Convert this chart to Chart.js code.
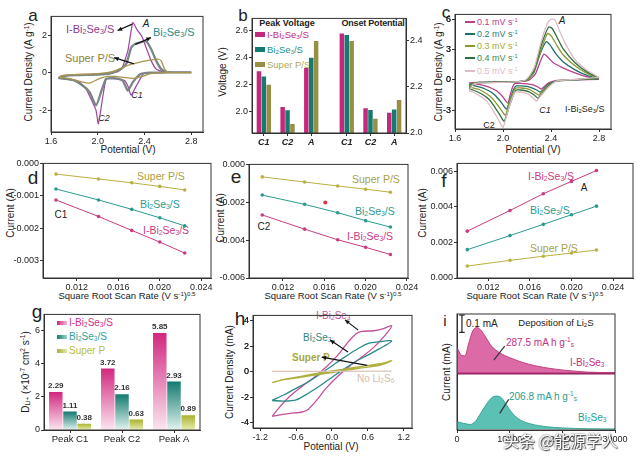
<!DOCTYPE html>
<html>
<head>
<meta charset="utf-8">
<script src="https://cdn.jsdelivr.net/npm/chart.js@4.4.1/dist/chart.umd.min.js"></script>
<style>
body { margin: 0; background: #fff; }
#fig { position: relative; width: 640px; height: 463px; overflow: hidden; background: #fff; font-family: "Liberation Sans", Arial, sans-serif; color: #222; }
#fig div { position: absolute; white-space: nowrap; line-height: 1; }
.t { transform: translate(-50%, -50%); }
.l { transform: translate(0, -50%); }
.r { transform: translate(-50%, -50%) rotate(-90deg); font-size: 10px; }
#fig sub { font-size: 65%; vertical-align: -0.2em; }
#fig sup { font-size: 65%; vertical-align: 0.5em; }
.big { font-size: 17px; transform: translate(-50%, -50%); }
.sw { width: 10px; height: 5px; }
.ln { width: 10px; height: 2px; }
</style>
</head>
<body>
<div id="fig">
  <!-- panel letters -->
  <div class="big" style="left:33px;top:15px">a</div>
  <div class="big" style="left:243px;top:15px">b</div>
  <div class="big" style="left:446px;top:12px">c</div>
  <div class="big" style="left:33px;top:177px;font-size:19px">d</div>
  <div class="big" style="left:236px;top:176px;font-size:19px">e</div>
  <div class="big" style="left:444px;top:180px;font-size:19px">f</div>
  <div class="big" style="left:37px;top:311px;font-size:19px">g</div>
  <div class="big" style="left:240px;top:318px;font-size:19px">h</div>
  <div class="big" style="left:445px;top:320px;font-size:15px">i</div>

  <!-- a -->
  <div class="r" style="left:29px;top:72px">Current Density (A g<sup>-1</sup>)</div>
  <div class="t" style="left:128px;top:150px;font-size:10px">Potential (V)</div>
  <div class="l" style="left:66px;top:30px;color:#8d3a8f;font-size:11px">I-Bi<sub>2</sub>Se<sub>3</sub>/S</div>
  <div class="t" style="left:146px;top:24px;font-style:italic;font-size:10px">A</div>
  <div class="l" style="left:153px;top:33px;color:#2a8c86;font-size:11px">Bi<sub>2</sub>Se<sub>3</sub>/S</div>
  <div class="l" style="left:65px;top:58px;color:#8f8240;font-size:11px">Super P/S</div>
  <div class="t" style="left:137px;top:95px;font-style:italic;font-size:9px">C1</div>
  <div class="t" style="left:104px;top:118px;font-style:italic;font-size:9px">C2</div>

  <!-- b -->
  <div class="r" style="left:223px;top:72px">Voltage (V)</div>
  <div class="t" style="left:287px;top:23px;font-weight:bold;font-size:9px">Peak Voltage</div>
  <div class="t" style="left:373px;top:23px;font-weight:bold;font-size:9px;letter-spacing:-0.2px">Onset Potential</div>
  <div class="sw" style="left:255px;top:32px;background:#c2297c"></div>
  <div class="sw" style="left:255px;top:47px;background:#157a70"></div>
  <div class="sw" style="left:255px;top:62px;background:#978f45"></div>
  <div class="l" style="left:267px;top:35px;color:#c2297c;font-size:9.5px">I-Bi<sub>2</sub>Se<sub>3</sub>/S</div>
  <div class="l" style="left:267px;top:50px;color:#1f8f86;font-size:9.5px">Bi<sub>2</sub>Se<sub>3</sub>/S</div>
  <div class="l" style="left:267px;top:65px;color:#b0a850;font-size:9.5px">Super P/S</div>

  <!-- c -->
  <div class="r" style="left:439px;top:72px">Current Density (A g<sup>-1</sup>)</div>
  <div class="t" style="left:533px;top:150px;font-size:10px">Potential (V)</div>
  <div class="ln" style="left:465px;top:21px;background:#b8408c"></div>
  <div class="ln" style="left:465px;top:33px;background:#1f6f6a"></div>
  <div class="ln" style="left:465px;top:45px;background:#8a9a30"></div>
  <div class="ln" style="left:465px;top:57px;background:#2f6e3e"></div>
  <div class="ln" style="left:465px;top:70px;background:#dcbcc4"></div>
  <div class="l" style="left:477px;top:22px;color:#b8408c;font-size:9px">0.1 mV s<sup>-1</sup></div>
  <div class="l" style="left:477px;top:34px;color:#1f7f7a;font-size:9px">0.2 mV s<sup>-1</sup></div>
  <div class="l" style="left:477px;top:46px;color:#a6a832;font-size:9px">0.3 mV s<sup>-1</sup></div>
  <div class="l" style="left:477px;top:58px;color:#3d8a4a;font-size:9px">0.4 mV s<sup>-1</sup></div>
  <div class="l" style="left:477px;top:71px;color:#e3b9c9;font-size:9px">0.5 mV s<sup>-1</sup></div>
  <div class="t" style="left:562px;top:21px;font-style:italic;font-size:10px">A</div>
  <div class="t" style="left:545px;top:110px;font-style:italic;font-size:9px">C1</div>
  <div class="t" style="left:489px;top:125px;font-size:9px">C2</div>
  <div class="l" style="left:565px;top:110px;font-size:9px">I-Bi<sub>2</sub>Se<sub>3</sub>/S</div>

  <!-- d e f -->
  <div class="r" style="left:11px;top:213px">Current (A)</div>
  <div class="t" style="left:127px;top:296px;font-size:9.5px">Square Root Scan Rate (V s<sup>-1</sup>)<sup>0.5</sup></div>
  <div class="l" style="left:137px;top:176px;color:#a89f45;font-size:10.5px">Super P/S</div>
  <div class="l" style="left:140px;top:205px;color:#2a9a90;font-size:10.5px">Bi<sub>2</sub>Se<sub>3</sub>/S</div>
  <div class="l" style="left:143px;top:231px;color:#c83c80;font-size:10.5px">I-Bi<sub>2</sub>Se<sub>3</sub>/S</div>
  <div class="t" style="left:61px;top:215px;font-size:10px">C1</div>

  <div class="r" style="left:221px;top:218px">Current (A)</div>
  <div class="t" style="left:333px;top:296px;font-size:9.5px">Square Root Scan Rate (V s<sup>-1</sup>)<sup>0.5</sup></div>
  <div class="l" style="left:352px;top:179px;color:#a89f45;font-size:10.5px">Super P/S</div>
  <div class="l" style="left:355px;top:212px;color:#2a9a90;font-size:10.5px">Bi<sub>2</sub>Se<sub>3</sub>/S</div>
  <div class="l" style="left:347px;top:237px;color:#c83c80;font-size:10.5px">I-Bi<sub>2</sub>Se<sub>3</sub>/S</div>
  <div class="t" style="left:264px;top:227px;font-size:10px">C2</div>

  <div class="r" style="left:423px;top:213px">Current (A)</div>
  <div class="t" style="left:535px;top:296px;font-size:9.5px">Square Root Scan Rate (V s<sup>-1</sup>)<sup>0.5</sup></div>
  <div class="l" style="left:528px;top:177px;color:#c83c80;font-size:10.5px">I-Bi<sub>2</sub>Se<sub>3</sub>/S</div>
  <div class="t" style="left:584px;top:188px;font-size:10px">A</div>
  <div class="l" style="left:530px;top:211px;color:#2a9a90;font-size:10.5px">Bi<sub>2</sub>Se<sub>3</sub>/S</div>
  <div class="l" style="left:530px;top:248px;color:#a89f45;font-size:10.5px">Super P/S</div>

  <!-- g -->
  <div class="r" style="left:26px;top:372px">D<sub>Li+</sub> (×10<sup>-7</sup> cm<sup>2</sup> s<sup>-1</sup>)</div>
  <div class="sw" style="left:57px;top:321px;height:4px;background:linear-gradient(90deg,#d2277f,#f3b5d3)"></div>
  <div class="sw" style="left:57px;top:335px;height:4px;background:linear-gradient(90deg,#157a70,#9fd3cc)"></div>
  <div class="sw" style="left:57px;top:349px;height:4px;background:linear-gradient(90deg,#a6b032,#e4ea9e)"></div>
  <div class="l" style="left:69px;top:323px;color:#d2308a;font-size:10px">I-Bi<sub>2</sub>Se<sub>3</sub>/S</div>
  <div class="l" style="left:69px;top:337px;color:#2aa39a;font-size:10px">Bi<sub>2</sub>Se<sub>3</sub>/S</div>
  <div class="l" style="left:69px;top:351px;color:#b5c040;font-size:10px">Super P</div>

  <!-- h -->
  <div class="r" style="left:230px;top:372px">Current Density (mA)</div>
  <div class="t" style="left:331px;top:447px;font-size:10px">Potential (V)</div>
  <div class="l" style="left:316px;top:316px;color:#c2509a;font-size:10px">I-Bi<sub>2</sub>Se<sub>3</sub></div>
  <div class="l" style="left:303px;top:338px;color:#2a8a88;font-size:10px">Bi<sub>2</sub>Se<sub>3</sub></div>
  <div class="l" style="left:292px;top:358px;color:#aaa838;font-size:10px;font-weight:bold">Super P</div>
  <div class="l" style="left:357px;top:379px;color:#d8bcb0;font-size:10px">No Li<sub>2</sub>S<sub>6</sub></div>

  <!-- i -->
  <div class="r" style="left:447px;top:372px">Current (mA)</div>
  <div class="l" style="left:466px;top:324px;font-size:10px">0.1 mA</div>
  <div class="t" style="left:556px;top:323px;font-size:9.5px">Deposition of Li<sub>2</sub>S</div>
  <div class="l" style="left:506px;top:343px;color:#c2307f;font-size:10px">287.5 mA h g<sup>-1</sup><sub>s</sub></div>
  <div class="l" style="left:570px;top:363px;color:#c2307f;font-size:10px">I-Bi<sub>2</sub>Se<sub>3</sub></div>
  <div class="l" style="left:509px;top:397px;color:#2a9d90;font-size:10px">206.8 mA h g<sup>-1</sup><sub>s</sub></div>
  <div class="l" style="left:578px;top:418px;color:#2a9d90;font-size:10px">Bi<sub>2</sub>Se<sub>3</sub></div>
</div>
<script>
// ---- a: CV curves at 0.1 mV/s, [potential (V), current density (A/g)]
const aIBS = [[2.8,0.02],[2.6,0.02],[2.45,0],[2.39,-0.05],[2.37,-0.25],[2.33,-0.7],[2.285,-1.2],[2.26,-0.75],[2.23,-0.42],[2.16,-0.33],[2.1,-0.3],[2.07,-0.35],[2.04,-1.4],[2.005,-2.72],[1.985,-2.0],[1.957,-1.6],[1.9,-0.86],[1.843,-0.51],[1.757,-0.33],[1.67,-0.25],
  [1.7,-0.15],[1.8,-0.12],[2.0,-0.08],[2.1,-0.03],[2.17,0.05],[2.21,0.28],[2.257,1.16],[2.285,2.21],[2.3,2.68],[2.335,2.3],[2.38,1.9],[2.414,1.33],[2.457,0.63],[2.5,0.19],[2.557,0.05],[2.7,0.02],[2.8,0.02]];
const aBS = [[2.8,0.02],[2.6,0.02],[2.45,0],[2.38,-0.05],[2.357,-0.1],[2.3,-0.5],[2.257,-0.95],[2.214,-0.42],[2.157,-0.3],[2.1,-0.3],[2.07,-0.33],[2.03,-1.0],[1.985,-1.74],[1.93,-1.03],[1.87,-0.68],[1.786,-0.39],[1.67,-0.28],
  [1.7,-0.18],[1.8,-0.13],[2.0,-0.1],[2.1,-0.05],[2.185,0.14],[2.243,0.46],[2.285,1.33],[2.314,1.51],[2.357,1.6],[2.414,1.68],[2.457,1.25],[2.5,0.63],[2.543,0.19],[2.585,0.05],[2.7,0.02],[2.8,0.02]];
const aSP = [[2.8,0],[2.6,0],[2.45,-0.05],[2.38,-0.2],[2.3,-0.3],[2.22,-0.25],[2.15,-0.2],[2.08,-0.2],[2.0,-0.35],[1.93,-0.55],[1.87,-0.5],[1.8,-0.38],[1.72,-0.28],[1.67,-0.25],
  [1.7,-0.15],[1.8,-0.1],[2.0,-0.05],[2.13,0.07],[2.27,0.42],[2.414,0.63],[2.514,0.72],[2.543,0.63],[2.571,0.19],[2.6,0.03],[2.7,0],[2.8,0]];

// ---- b: peak voltage (left axis) and onset potential (right axis), V
const bCats = ['C1', 'C2', 'A', 'C1', 'C2', 'A'];
const bPos = [1, 2, 3, 4.5, 5.5, 6.5];
const peakIBS = [2.30, 2.036, 2.324];
const peakBS = [2.261, 2.012, 2.40];
const peakSP = [2.20, 1.912, 2.523];
const onsetIBS = [2.431, 2.107, 2.088];
const onsetBS = [2.424, 2.100, 2.102];
const onsetSP = [2.398, 2.062, 2.143];

// ---- c: I-Bi2Se3/S CV at different scan rates
const cRates = ['0.1', '0.2', '0.3', '0.4', '0.5'];
const c01 = [[2.8,0.05],[2.6,0.0],[2.45,-0.05],[2.38,-0.3],[2.34,-0.7],[2.32,-0.9],[2.29,-0.7],[2.25,-0.5],[2.2,-0.4],[2.15,-0.35],[2.1,-0.35],[2.08,-0.7],[2.06,-1.5],[2.04,-2.3],[2.0,-1.7],[1.95,-1.1],[1.9,-0.8],[1.85,-0.6],[1.8,-0.45],[1.75,-0.35],[1.72,-0.3],
  [1.8,-0.25],[2.0,-0.2],[2.15,-0.15],[2.22,0.0],[2.27,0.6],[2.31,1.8],[2.34,2.55],[2.37,2.3],[2.42,1.7],[2.5,1.2],[2.6,0.7],[2.7,0.3],[2.8,0.05]];
const c02 = [[2.8,0.1],[2.6,0.0],[2.45,-0.1],[2.38,-0.4],[2.34,-0.9],[2.31,-1.2],[2.28,-1.0],[2.24,-0.8],[2.2,-0.65],[2.15,-0.6],[2.11,-0.6],[2.09,-0.9],[2.06,-1.9],[2.03,-2.9],[1.99,-2.3],[1.94,-1.6],[1.9,-1.2],[1.85,-0.9],[1.8,-0.7],[1.75,-0.55],[1.72,-0.5],
  [1.76,-0.3],[1.8,-0.25],[2.0,-0.2],[2.15,-0.15],[2.21,0.05],[2.26,0.8],[2.31,2.6],[2.36,3.8],[2.39,3.5],[2.44,2.6],[2.5,1.8],[2.6,1.0],[2.7,0.45],[2.8,0.1]];
const c03 = [[2.8,0.15],[2.6,0.02],[2.45,-0.1],[2.38,-0.5],[2.33,-1.1],[2.3,-1.5],[2.27,-1.3],[2.23,-1.0],[2.19,-0.85],[2.15,-0.8],[2.11,-0.8],[2.09,-1.1],[2.05,-2.3],[2.02,-3.5],[1.98,-2.9],[1.93,-2.1],[1.89,-1.6],[1.84,-1.2],[1.8,-0.95],[1.75,-0.8],[1.72,-0.7],
  [1.75,-0.35],[1.8,-0.25],[2.0,-0.2],[2.15,-0.15],[2.21,0.05],[2.26,0.9],[2.32,3.1],[2.37,4.6],[2.4,4.4],[2.45,3.4],[2.5,2.5],[2.6,1.4],[2.7,0.65],[2.8,0.15]];
const c04 = [[2.8,0.2],[2.6,0.03],[2.45,-0.1],[2.38,-0.6],[2.33,-1.3],[2.29,-1.8],[2.26,-1.5],[2.22,-1.2],[2.18,-1.05],[2.14,-1.0],[2.11,-1.0],[2.09,-1.4],[2.05,-2.7],[2.01,-4.1],[1.97,-3.4],[1.92,-2.5],[1.88,-1.9],[1.83,-1.45],[1.79,-1.2],[1.75,-1.0],[1.72,-0.9],
  [1.75,-0.4],[1.8,-0.28],[2.0,-0.22],[2.15,-0.15],[2.2,0.05],[2.26,1.0],[2.32,3.5],[2.38,5.25],[2.41,5.1],[2.46,4.0],[2.5,3.1],[2.6,1.7],[2.7,0.8],[2.8,0.2]];
const c05 = [[2.8,0.25],[2.6,0.04],[2.45,-0.1],[2.38,-0.7],[2.32,-1.5],[2.28,-2.1],[2.25,-1.8],[2.21,-1.4],[2.17,-1.25],[2.13,-1.2],[2.1,-1.2],[2.08,-1.7],[2.04,-3.1],[2.0,-4.7],[1.96,-3.9],[1.91,-2.9],[1.87,-2.2],[1.82,-1.7],[1.78,-1.4],[1.75,-1.2],[1.72,-1.1],
  [1.75,-0.45],[1.8,-0.3],[2.0,-0.25],[2.15,-0.15],[2.2,0.1],[2.26,1.2],[2.32,3.9],[2.37,5.6],[2.4,6.0],[2.43,6.0],[2.47,4.9],[2.52,3.6],[2.6,2.0],[2.7,0.95],[2.8,0.25]];

// ---- d, e, f: peak current vs square root of scan rate
const rootRate = [0.0100, 0.0141, 0.0173, 0.0200, 0.0224];
const dSP = [-0.00033, -0.00048, -0.00060, -0.00071, -0.00082];
const dBS = [-0.00079, -0.00113, -0.00142, -0.00168, -0.00193];
const dIBS = [-0.00113, -0.00164, -0.00207, -0.00243, -0.00277];
const eSP = [-0.00066, -0.00093, -0.00114, -0.00131, -0.00147];
const eBS = [-0.00162, -0.00211, -0.00255, -0.00297, -0.00331];
const eIBS = [-0.00267, -0.00342, -0.00398, -0.00438, -0.00476];
const eStray = [[0.0161, -0.00201]];
const fIBS = [0.00263, 0.00379, 0.00473, 0.00542, 0.00603];
const fBS = [0.00159, 0.00238, 0.00301, 0.00355, 0.00403];
const fSP = [0.00067, 0.00099, 0.00122, 0.00140, 0.00157];

// ---- g: Li+ diffusion coefficients
const gCats = ['Peak C1', 'Peak C2', 'Peak A'];
const gIBS = [2.29, 3.72, 5.85];
const gBS = [1.11, 2.16, 2.93];
const gSP = [0.38, 0.63, 0.89];

// ---- h: symmetric cell CV, [potential V, current mA]
const hIBS = [[-1.0,-3.5],[-0.9,-2.9],[-0.7,-1.9],[-0.5,-1.15],[-0.3,-0.45],[-0.1,0.35],[0.1,1.3],[0.25,2.2],[0.4,2.95],[0.5,3.15],[0.7,3.2],[0.85,3.35],[1.0,3.6],
  [0.9,2.9],[0.7,1.9],[0.5,1.15],[0.3,0.45],[0.1,-0.35],[-0.1,-1.3],[-0.25,-2.2],[-0.4,-2.95],[-0.5,-3.15],[-0.7,-3.25],[-0.85,-3.35],[-1.0,-3.5]];
const hBS = [[-1.0,-2.25],[-0.8,-1.8],[-0.6,-1.3],[-0.4,-0.8],[-0.2,-0.2],[0.0,0.45],[0.2,1.1],[0.4,1.7],[0.6,2.2],[0.8,2.35],[1.0,2.4],
  [0.8,1.8],[0.6,1.3],[0.4,0.8],[0.2,0.2],[0.0,-0.45],[-0.2,-1.1],[-0.4,-1.7],[-0.6,-2.2],[-0.8,-2.3],[-1.0,-2.25]];
const hSP = [[-1.0,-0.85],[-0.8,-0.6],[-0.5,-0.35],[-0.2,-0.1],[0.2,0.2],[0.5,0.42],[0.8,0.62],[1.0,0.85],
  [0.8,0.5],[0.5,0.3],[0.2,0.08],[-0.2,-0.2],[-0.5,-0.42],[-0.8,-0.62],[-1.0,-0.85]];
const hNone = [[-1.0,0.02],[0.0,0.03],[1.0,0.05]];

// ---- i: Li2S deposition, time (s) vs current (mA); upper trace is shifted by iShift
const iShift = 0.324;
const iTopT = [0, 300, 800, 1500, 2200, 3000, 3750, 4500, 5500, 6500, 8000, 10000, 12500, 15000, 18750, 22000, 25000, 30000];
const iTopI = [0.15, 0.13, 0.105, 0.1, 0.17, 0.245, 0.264, 0.25, 0.206, 0.158, 0.12, 0.09, 0.062, 0.042, 0.023, 0.013, 0.006, 0.003];
const iBotT = [0, 500, 1500, 2500, 3500, 4500, 5500, 6500, 7500, 8500, 9500, 10500, 12000, 14000, 17000, 20000, 25000, 30000];
const iBotI = [0.046, 0.04, 0.033, 0.028, 0.046, 0.093, 0.14, 0.18, 0.192, 0.18, 0.135, 0.093, 0.054, 0.031, 0.015, 0.008, 0.003, 0.002];

const FONT = '"Liberation Sans", Arial, sans-serif';
const pts = arr => arr.map(p => ({ x: p[0], y: p[1] }));
const zip = (xs, ys) => xs.map((x, k) => ({ x: x, y: ys[k] }));

function axis(pos, min, max, ticks, fmt, more) {
    return Object.assign({
        type: 'linear', position: pos, min: min, max: max,
        afterBuildTicks: s => { s.ticks = ticks.map(v => ({ value: v })); },
        ticks: { callback: fmt, font: { family: FONT, size: 9 }, color: '#222', padding: 1, maxRotation: 0, autoSkip: false, z: 1 },
        grid: { drawOnChartArea: false, tickLength: 3, color: '#333', offset: false },
        border: { color: '#333' }
    }, more || {});
}

const framePlugin = {
    id: 'frame',
    afterDraw(chart) {
        const a = chart.chartArea, ctx = chart.ctx;
        ctx.save();
        ctx.strokeStyle = '#333';
        ctx.lineWidth = 1;
        ctx.strokeRect(a.left, a.top, a.right - a.left, a.bottom - a.top);
        ctx.restore();
    }
};

// arrows / pointer lines given in data units, value labels on bars
function marks(ex) {
    return {
        id: 'marks',
        afterDatasetsDraw(chart) {
            const ctx = chart.ctx, xs = chart.scales.x, ys = chart.scales.y;
            ctx.save();
            (ex.arrows || []).forEach(a => {
                const x1 = xs.getPixelForValue(a[0]), y1 = ys.getPixelForValue(a[1]);
                const x2 = xs.getPixelForValue(a[2]), y2 = ys.getPixelForValue(a[3]);
                ctx.strokeStyle = ctx.fillStyle = a[4] || '#111';
                ctx.lineWidth = 1.2;
                ctx.beginPath(); ctx.moveTo(x1, y1); ctx.lineTo(x2, y2); ctx.stroke();
                if (a[5] !== false) {
                    const ang = Math.atan2(y2 - y1, x2 - x1), s = 5;
                    ctx.beginPath();
                    ctx.moveTo(x2, y2);
                    ctx.lineTo(x2 - s * Math.cos(ang - 0.45), y2 - s * Math.sin(ang - 0.45));
                    ctx.lineTo(x2 - s * Math.cos(ang + 0.45), y2 - s * Math.sin(ang + 0.45));
                    ctx.closePath(); ctx.fill();
                }
            });
            if (ex.values) {
                ctx.font = 'bold 8px ' + FONT;
                ctx.fillStyle = '#333';
                ctx.textAlign = 'center';
                ctx.textBaseline = 'bottom';
                chart.data.datasets.forEach((ds, i) => {
                    chart.getDatasetMeta(i).data.forEach((el, k) => {
                        ctx.fillText(ds.data[k].toFixed(2), el.x, el.y - 2);
                    });
                });
            }
            ctx.restore();
        },
        afterDraw(chart) {
            // y tick labels written again from the scale's own ticks where they went missing
            if (!ex.yLabels) return;
            const ctx = chart.ctx, y = chart.scales.y;
            ctx.save();
            ctx.font = '9px ' + FONT;
            ctx.fillStyle = '#222';
            ctx.textAlign = 'right';
            ctx.textBaseline = 'middle';
            y.ticks.forEach(t => ctx.fillText(t.label, y.right - 4, y.getPixelForValue(t.value)));
            ctx.restore();
        }
    };
}

// box = frame [left, top, right, bottom] on the page, m = margins [left, top, right, bottom]
function panel(box, m, config, extras) {
    const c = document.createElement('canvas');
    const w = box[2] - box[0] + m[0] + m[2], h = box[3] - box[1] + m[1] + m[3];
    c.width = w; c.height = h;
    c.style.cssText = 'position:absolute;left:' + (box[0] - m[0]) + 'px;top:' + (box[1] - m[1]) + 'px;width:' + w + 'px;height:' + h + 'px';
    document.getElementById('fig').appendChild(c);
    let hasRight = false;
    Object.values(config.options.scales).forEach(s => {
        if (s.position === 'right') { hasRight = true; s.afterFit = a => { a.width = m[2]; }; }
        else if (s.position === 'left') s.afterFit = a => { a.width = m[0]; };
        else s.afterFit = a => { a.height = m[3]; };
    });
    Object.assign(config.options, {
        responsive: false, animation: false,
        layout: { autoPadding: false, padding: { left: 0, top: m[1], right: hasRight ? 0 : m[2], bottom: 0 } }
    });
    config.options.plugins = Object.assign({ legend: { display: false }, tooltip: { enabled: false } }, config.options.plugins || {});
    config.plugins = [framePlugin, marks(extras || {})];
    return new Chart(c, config);
}

const curve = (data, color, width, tension) => ({
    data: pts(data), borderColor: color, borderWidth: width, showLine: true,
    pointRadius: 0, tension: tension, fill: false
});
const fit = (xs, ys, color) => ({
    data: zip(xs, ys), borderColor: color, backgroundColor: color, borderWidth: 1,
    showLine: true, pointRadius: 1.8, pointBorderWidth: 0, tension: 0
});
const intFmt = v => String(v);
const f1 = v => v.toFixed(1);
const f3 = v => v.toFixed(3);

// a
panel([51, 15, 203, 132], [40, 5, 10, 14], {
    type: 'scatter',
    data: { datasets: [curve(aSP, '#a89650', 1.3, 0.2), curve(aBS, '#7a8585', 2.3, 0.2), curve(aIBS, '#9b45a0', 1.2, 0.15)] },
    options: { scales: {
        x: axis('bottom', 1.6, 2.9, [1.6, 2.0, 2.4, 2.8], f1),
        y: axis('left', -3.16, 3.0, [-2, 0, 2], intFmt)
    } }
}, { arrows: [[2.295, 2.59, 2.17, 2.25], [2.32, 1.5, 2.455, 1.87], [2.31, 0.47, 2.14, 0.8]] });

// b
const bar = (vals, first, color, axisId) => ({
    data: bPos.map((x, k) => ({ x: x, y: (first ? k < 3 : k >= 3) ? vals[first ? k : k - 3] : null })),
    backgroundColor: color, yAxisID: axisId, skipNull: true,
    categoryPercentage: 0.62, barPercentage: 0.92
});
panel([252, 17, 406, 133], [26, 5, 20, 14], {
    type: 'bar',
    data: { datasets: [
        bar(peakIBS, true, '#c2297c', 'y'), bar(peakBS, true, '#157a70', 'y'), bar(peakSP, true, '#978f45', 'y'),
        bar(onsetIBS, false, '#c2297c', 'y1'), bar(onsetBS, false, '#157a70', 'y1'), bar(onsetSP, false, '#978f45', 'y1')
    ] },
    options: { scales: {
        x: axis('bottom', 0.5, 7.0, bPos, (v, i) => bCats[i], { offset: false,
            ticks: { callback: (v, i) => bCats[i], font: { family: FONT, size: 9, style: 'italic', weight: 'bold' }, color: '#222', padding: 1, maxRotation: 0, autoSkip: false } }),
        y: axis('left', 1.845, 2.69, [2.0, 2.2, 2.4, 2.6], f1),
        y1: axis('right', 2.0, 2.496, [2.0, 2.2, 2.4], f1)
    } }
});

// c
const cColors = ['#b8408c', '#1f6f6a', '#8a9a30', '#2f6e3e', '#dcbcc4'];
panel([455, 13, 611, 129], [40, 5, 10, 14], {
    type: 'scatter',
    data: { datasets: [c05, c04, c03, c02, c01].map((d, k) => curve(d, cColors[4 - k], 1.3, 0.2)) },
    options: { scales: {
        x: axis('bottom', 1.6, 2.9, [1.6, 2.0, 2.4, 2.8], f1),
        y: axis('left', -4.87, 6.5, [-3, 0, 3, 6], intFmt)
    } }
}, { yLabels: true });

// d
panel([43, 163, 211, 278], [34, 6, 14, 14], {
    type: 'scatter',
    data: { datasets: [fit(rootRate, dSP, '#b8b040'), fit(rootRate, dBS, '#2a9a90'), fit(rootRate, dIBS, '#c83c80')] },
    options: { scales: {
        x: axis('bottom', 0.00875, 0.02493, [0.012, 0.016, 0.020, 0.024], f3),
        y: axis('left', -0.00354, 0, [-0.003, -0.002, -0.001, 0], f3)
    } }
});

// e
panel([249, 164, 408, 278], [34, 6, 14, 14], {
    type: 'scatter',
    data: { datasets: [fit(rootRate, eSP, '#b8b040'), fit(rootRate, eBS, '#2a9a90'), fit(rootRate, eIBS, '#c83c80'),
        { data: pts(eStray), backgroundColor: '#e03040', pointRadius: 2, pointBorderWidth: 0 }] },
    options: { scales: {
        x: axis('bottom', 0.00872, 0.0241, [0.012, 0.016, 0.020, 0.024], f3),
        y: axis('left', -0.006, 0, [-0.006, -0.004, -0.002, 0], f3)
    } }
});

// f
panel([457, 163, 633, 278], [30, 6, 6, 14], {
    type: 'scatter',
    data: { datasets: [fit(rootRate, fIBS, '#c83c80'), fit(rootRate, fBS, '#2a9a90'), fit(rootRate, fSP, '#b8b040')] },
    options: { scales: {
        x: axis('bottom', 0.00901, 0.02591, [0.012, 0.016, 0.020, 0.024], f3),
        y: axis('left', 0, 0.00643, [0, 0.002, 0.004, 0.006], f3)
    } }
});

// g
function fade(top, bottom) {
    return ctx => {
        const ch = ctx.chart;
        if (!ch.chartArea || ctx.type !== 'data') return top;
        const y = ch.scales.y;
        const y0 = y.getPixelForValue(ctx.raw), y1 = y.getPixelForValue(0);
        if (!(y1 > y0)) return top;
        const g = ch.ctx.createLinearGradient(0, y0, 0, y1);
        g.addColorStop(0, top);
        g.addColorStop(1, bottom);
        return g;
    };
}
panel([44, 314, 200, 430], [32, 6, 6, 14], {
    type: 'bar',
    data: { labels: gCats, datasets: [
        { data: gIBS, backgroundColor: fade('#d2277f', '#fbe6f0') },
        { data: gBS, backgroundColor: fade('#127a70', '#e2f2ef') },
        { data: gSP, backgroundColor: fade('#a9b22e', '#e9eeb0') }
    ] },
    options: {
        datasets: { bar: { categoryPercentage: 0.82, barPercentage: 0.95 } },
        scales: {
            x: { type: 'category', position: 'bottom',
                ticks: { font: { family: FONT, size: 9.5 }, color: '#222', padding: 1, maxRotation: 0 },
                grid: { drawOnChartArea: false, tickLength: 3, color: '#333', offset: false }, border: { color: '#333' } },
            y: axis('left', 0, 6.98, [0, 2, 4, 6], intFmt)
        }
    }
}, { values: true });

// h
panel([253, 315, 412, 428], [40, 6, 8, 14], {
    type: 'scatter',
    data: { datasets: [curve(hNone, '#dcc4b8', 1.3, 0), curve(hSP, '#b0b040', 1.4, 0.3),
        curve(hBS, '#2a8a88', 1.3, 0.3), curve(hIBS, '#c2509a', 1.3, 0.25)] },
    options: { scales: {
        x: axis('bottom', -1.32, 1.34, [-1.2, -0.6, 0, 0.6, 1.2], f1),
        y: axis('left', -4.4, 4.4, [-4, -2, 0, 2, 4], intFmt)
    } }
}, { yLabels: true, arrows: [[0.44, 3.25, 0.22, 4.05], [0.27, 1.53, -0.03, 2.47], [0.59, 0.5, -0.17, 1.14]] });

// i
panel([457, 314, 615, 430], [6, 6, 14, 14], {
    type: 'line',
    data: { datasets: [
        { data: zip(iTopT, iTopI.map(v => v + iShift)), borderColor: '#c2407f', borderWidth: 1,
          backgroundColor: 'rgba(214,80,150,0.85)', fill: { value: iShift }, pointRadius: 0, cubicInterpolationMode: 'monotone' },
        { data: zip([0, 30000], [iShift, iShift]), borderColor: '#8a1f5a', borderWidth: 2.5, pointRadius: 0, fill: false },
        { data: zip(iBotT, iBotI), borderColor: '#35a596', borderWidth: 1,
          backgroundColor: 'rgba(72,186,172,0.9)', fill: { value: 0 }, pointRadius: 0, cubicInterpolationMode: 'monotone' }
    ] },
    options: { scales: {
        x: axis('bottom', 0, 30000, [0, 10000, 20000, 30000], intFmt),
        y: axis('left', -0.004, 0.666, [], intFmt, { ticks: { display: false }, grid: { display: false } })
    } }
}, { arrows: [[940, 0.56, 940, 0.66, '#222', false], [420, 0.66, 1460, 0.66, '#222', false], [420, 0.56, 1460, 0.56, '#222', false],
    [9056, 0.48, 6994, 0.4, '#333', false], [9806, 0.173, 8119, 0.092, '#333', false]] });
</script>
<div style="position:absolute;left:503px;top:428px;font-family:'Noto Sans CJK SC',sans-serif;font-size:16px;color:#fff;text-shadow:0 0 2px #333,1px 1px 1px #444;white-space:nowrap">头条 @能源学人</div>
</body>
</html>
